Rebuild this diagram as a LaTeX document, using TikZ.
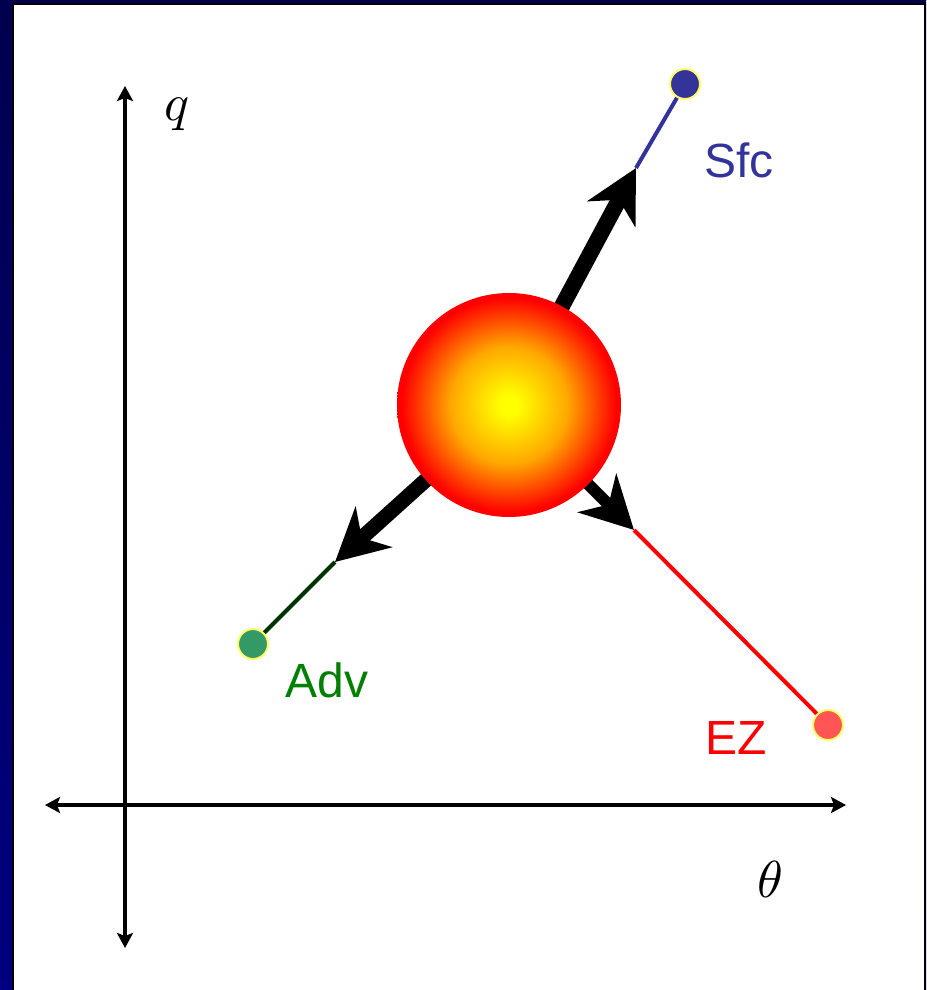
\documentclass[tikz,border=0pt]{standalone}
\usepackage{fontspec}
\setsansfont{Liberation Sans}
\usetikzlibrary{arrows.meta}
\definecolor{navytop}{RGB}{0,0,78}
\definecolor{navybot}{RGB}{0,0,128}
\definecolor{sfcblue}{RGB}{51,51,153}
\definecolor{advgreen}{RGB}{0,128,0}
\definecolor{advline}{RGB}{0,51,0}
\definecolor{advdot}{RGB}{51,153,102}
\definecolor{ezdot}{RGB}{255,85,85}
\definecolor{ringyellow}{RGB}{255,255,102}
\definecolor{midorange}{RGB}{255,168,0}
\pgfdeclareradialshading{sunshade}{\pgfpoint{0bp}{0bp}}{color(0bp)=(yellow); color(2bp)=(yellow); color(13bp)=(midorange); color(24bp)=(red); color(50bp)=(red)}
\tikzset{
  axis/.style={line width=4.5pt, {Stealth[length=15pt,width=16pt,inset=3pt]}-{Stealth[length=15pt,width=16pt,inset=3pt]}},
  bigarrow/.style={line width=#1, -{Stealth[length=52pt,width=54pt,inset=16pt]}},
  thinline/.style={line width=4pt},
  dot/.style={circle, draw=ringyellow, line width=2pt, minimum size=30pt, inner sep=0pt},
  lbl/.style={font=\sffamily\fontsize{48}{58}\selectfont, inner sep=0pt},
  mlbl/.style={scale=5.2, inner sep=0pt},
  ball/.style={circle, minimum size=224pt, inner sep=0pt, shading=sunshade}
}
\begin{document}
\begin{tikzpicture}[x=1pt,y=-1pt]
\useasboundingbox (0,0) rectangle (926,990);
% frame
\shade[top color=navytop, bottom color=navybot] (0,0) rectangle (926,990);
\fill[black] (12,3) rectangle (926,990);
\fill[white] (14,5) rectangle (924,990);
% axes
\coordinate (ytop) at (125,86);
\coordinate (ybot) at (125,948);
\coordinate (xleft) at (45,805);
\coordinate (xright) at (846,805);
\draw[axis] (ybot) -- (ytop);
\draw[axis] (xleft) -- (xright);
\node[mlbl] (qlab) at (177,114) {$q$};
\node[mlbl] (thlab) at (770,879) {$\theta$};
% centre and tips
\coordinate (cc) at (509,405);
\coordinate (sfctip) at (636,168);
\coordinate (advtip) at (335,562);
\coordinate (eztip) at (634,530);
% dots
\node[dot, fill=sfcblue] (sfc) at (685,84) {};
\node[dot, fill=advdot] (adv) at (253,644) {};
\node[dot, fill=ezdot] (ez) at (828,725) {};
% thin lines
\draw[thinline, sfcblue] (sfctip) -- (sfc);
\draw[thinline, advline] (advtip) -- (adv);
\draw[thinline, red] (eztip) -- (ez);
% thick arrows
\draw[bigarrow=16pt] (cc) -- (sfctip);
\draw[bigarrow=15pt] (cc) -- (advtip);
\draw[bigarrow=12pt] (cc) -- (eztip);
% ball
\node[ball] (c) at (cc) {};
% labels
\node[lbl, text=sfcblue] (sfclab) at (739,160) {Sfc};
\node[lbl, text=advgreen] (advlab) at (327,680) {Adv};
\node[lbl, text=red] (ezlab) at (736,738) {EZ};
\end{tikzpicture}
\end{document}
